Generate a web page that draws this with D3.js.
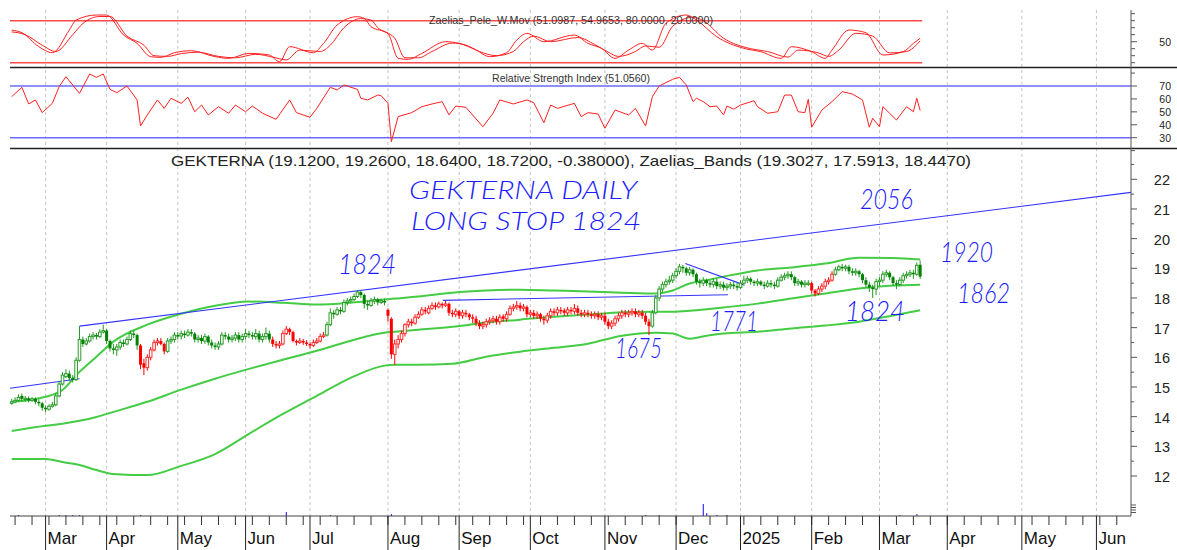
<!DOCTYPE html>
<html>
<head>
<meta charset="utf-8">
<script src="https://cdn.jsdelivr.net/npm/d3@7"></script>
<style>
  body { margin: 0; background: #fff; }
  svg { display: block; }
  text { font-family: "Liberation Sans", Arial, sans-serif; }
</style>
</head>
<body>
<div id="chart"></div>
<script>
"use strict"

/* ---- data (trading day index 0 = 16 Feb 2024) ---- */
let opens = [
  14.45,14.5,14.55,14.7,14.58,14.62,14.55,14.6,14.5,14.45,
  14.3,14.25,14.35,14.4,14.7,15.1,15.35,15.45,15.3,15.25,
  15.9,16.6,16.45,16.55,16.7,16.75,16.7,16.85,16.9,16.55,
  16.3,16.25,16.35,16.5,16.45,16.6,16.8,16.75,16.4,15.8,
  15.65,16.0,16.25,16.5,16.55,16.45,16.2,16.55,16.6,16.75,
  16.72,16.8,16.75,16.85,16.8,16.6,16.65,16.55,16.7,16.5,
  16.4,16.35,16.45,16.75,16.7,16.6,16.65,16.75,16.6,16.7,
  16.8,16.75,16.7,16.8,16.6,16.7,16.8,16.6,16.45,16.4,
  16.45,16.8,16.95,16.85,16.55,16.5,16.55,16.5,16.45,16.4,
  16.5,16.55,16.7,16.75,17.1,17.5,17.45,17.6,17.55,17.85,
  17.9,17.95,18.05,18.2,18.1,17.8,17.75,17.9,17.95,17.85,
  17.9,17.6,17.3,16.1,16.45,16.6,16.8,17.1,17.2,17.15,
  17.35,17.45,17.6,17.5,17.65,17.75,17.7,17.8,17.75,17.8,
  17.5,17.45,17.55,17.4,17.5,17.45,17.35,17.3,17.15,17.05,
  17.1,17.2,17.25,17.3,17.2,17.38,17.3,17.45,17.65,17.7,
  17.75,17.65,17.7,17.45,17.5,17.4,17.45,17.3,17.25,17.4,
  17.55,17.5,17.6,17.58,17.5,17.6,17.55,17.65,17.5,17.45,
  17.5,17.45,17.4,17.45,17.35,17.4,17.2,17.05,17.15,17.3,
  17.4,17.5,17.45,17.5,17.55,17.45,17.5,17.4,17.2,17.05,
  17.5,18.0,18.3,18.45,18.55,18.6,18.75,18.9,19.05,19.0,
  18.85,18.95,18.8,18.55,18.5,18.6,18.5,18.45,18.55,18.4,
  18.45,18.35,18.4,18.45,18.4,18.35,18.5,18.6,18.65,18.55,
  18.5,18.55,18.45,18.4,18.5,18.45,18.4,18.6,18.7,18.75,
  18.8,18.7,18.5,18.55,18.45,18.5,18.5,18.25,18.15,18.3,
  18.4,18.55,18.6,18.8,18.95,19.05,19.0,19.05,18.9,18.85,
  18.9,18.8,18.6,18.45,18.35,18.3,18.55,18.6,18.8,18.85,
  18.7,18.5,18.45,18.6,18.75,18.8,18.85,18.8,19.12
];
let highs = [
  14.6,14.65,14.75,14.78,14.7,14.68,14.66,14.65,14.58,14.5,
  14.38,14.42,14.5,14.8,15.2,15.5,15.6,15.55,15.4,16.0,
  17.05,16.7,16.65,16.8,16.85,16.82,16.95,17.1,16.95,16.6,
  16.45,16.45,16.6,16.6,16.7,16.9,16.9,16.8,16.45,15.95,
  16.1,16.35,16.6,16.65,16.65,16.5,16.65,16.7,16.85,16.85,
  16.9,16.9,16.95,16.95,16.85,16.75,16.75,16.8,16.75,16.6,
  16.5,16.55,16.85,16.85,16.8,16.75,16.85,16.85,16.8,16.95,
  16.9,16.85,16.95,16.9,16.8,17.0,16.9,16.7,16.55,16.55,
  16.9,17.05,17.0,16.9,16.6,16.65,16.62,16.58,16.5,16.6,
  16.65,16.8,16.85,17.2,17.65,17.6,17.7,17.7,17.95,18.0,
  18.05,18.15,18.27,18.25,18.15,17.9,18.0,18.05,18.0,17.98,
  17.98,17.65,17.35,16.6,16.75,16.9,17.15,17.3,17.3,17.45,
  17.55,17.7,17.7,17.75,17.85,17.85,17.88,17.85,17.9,17.85,
  17.6,17.65,17.6,17.6,17.6,17.5,17.45,17.4,17.25,17.2,
  17.3,17.35,17.4,17.4,17.45,17.45,17.55,17.75,17.8,17.9,
  17.85,17.8,17.75,17.6,17.6,17.55,17.5,17.4,17.5,17.65,
  17.65,17.7,17.7,17.65,17.7,17.7,17.8,17.75,17.6,17.6,
  17.6,17.55,17.55,17.55,17.5,17.5,17.3,17.25,17.4,17.5,
  17.6,17.6,17.6,17.65,17.65,17.6,17.6,17.5,17.3,17.6,
  18.1,18.4,18.55,18.65,18.75,18.85,19.0,19.15,19.12,19.05,
  19.05,19.0,18.85,18.65,18.7,18.65,18.6,18.65,18.65,18.55,
  18.55,18.5,18.55,18.55,18.5,18.6,18.75,18.75,18.7,18.6,
  18.65,18.6,18.55,18.6,18.6,18.55,18.7,18.8,18.85,18.9,
  18.9,18.75,18.65,18.6,18.6,18.6,18.55,18.3,18.4,18.5,
  18.65,18.7,18.9,19.05,19.12,19.15,19.12,19.12,19.0,19.0,
  18.95,18.85,18.7,18.55,18.45,18.65,18.7,18.9,18.95,18.9,
  18.75,18.6,18.7,18.85,18.9,18.95,18.95,19.2,19.26
];
let lows = [
  14.4,14.45,14.5,14.52,14.5,14.48,14.5,14.42,14.35,14.2,
  14.15,14.2,14.3,14.35,14.65,15.05,15.3,15.2,15.15,15.2,
  15.85,16.35,16.4,16.5,16.6,16.6,16.65,16.8,16.45,16.2,
  16.1,16.05,16.25,16.35,16.4,16.55,16.65,16.25,15.6,15.4,
  15.55,15.9,16.2,16.4,16.4,16.1,16.15,16.45,16.5,16.6,
  16.6,16.65,16.7,16.7,16.5,16.5,16.45,16.45,16.4,16.3,
  16.25,16.25,16.4,16.6,16.5,16.5,16.55,16.5,16.5,16.6,
  16.65,16.6,16.6,16.5,16.5,16.6,16.5,16.35,16.3,16.3,
  16.4,16.75,16.75,16.5,16.4,16.45,16.42,16.38,16.3,16.35,
  16.45,16.5,16.65,16.7,17.05,17.3,17.4,17.45,17.5,17.75,
  17.85,17.9,18.0,18.0,17.65,17.6,17.7,17.8,17.75,17.8,
  17.75,17.2,15.95,15.75,16.3,16.5,16.7,17.0,17.05,17.1,
  17.3,17.4,17.45,17.45,17.6,17.6,17.65,17.65,17.7,17.4,
  17.35,17.35,17.3,17.3,17.35,17.25,17.15,17.05,16.95,16.95,
  17.0,17.1,17.15,17.1,17.1,17.2,17.2,17.4,17.55,17.6,
  17.55,17.55,17.35,17.35,17.3,17.3,17.2,17.1,17.15,17.3,
  17.4,17.4,17.45,17.4,17.4,17.45,17.45,17.4,17.35,17.35,
  17.35,17.3,17.3,17.25,17.25,17.1,16.95,16.95,17.05,17.2,
  17.3,17.35,17.35,17.4,17.35,17.35,17.3,17.1,16.75,17.0,
  17.45,17.9,18.2,18.35,18.45,18.5,18.65,18.8,18.85,18.75,
  18.75,18.7,18.45,18.35,18.4,18.4,18.35,18.35,18.3,18.3,
  18.25,18.25,18.3,18.3,18.25,18.3,18.4,18.5,18.45,18.4,
  18.4,18.4,18.3,18.35,18.35,18.3,18.35,18.55,18.6,18.65,
  18.6,18.4,18.4,18.35,18.35,18.4,18.15,18.05,18.1,18.2,
  18.3,18.45,18.55,18.75,18.9,18.9,18.9,18.8,18.75,18.75,
  18.7,18.5,18.35,18.2,18.0,18.1,18.4,18.5,18.7,18.6,
  18.4,18.3,18.4,18.5,18.65,18.7,18.65,18.75,18.64
];
let closes = [
  14.5,14.55,14.65,14.6,14.62,14.55,14.6,14.5,14.45,14.3,
  14.25,14.35,14.4,14.7,15.1,15.4,15.45,15.3,15.25,15.9,
  16.6,16.45,16.55,16.7,16.75,16.7,16.85,16.9,16.55,16.3,
  16.25,16.35,16.5,16.45,16.6,16.8,16.75,16.4,15.75,15.65,
  16.0,16.25,16.5,16.55,16.45,16.2,16.55,16.6,16.75,16.7,
  16.8,16.75,16.85,16.8,16.6,16.65,16.55,16.7,16.5,16.4,
  16.35,16.45,16.75,16.7,16.6,16.65,16.75,16.6,16.7,16.8,
  16.75,16.7,16.8,16.6,16.7,16.8,16.6,16.45,16.4,16.45,
  16.8,16.95,16.85,16.55,16.5,16.55,16.5,16.45,16.4,16.5,
  16.55,16.7,16.75,17.1,17.5,17.45,17.6,17.55,17.85,17.9,
  17.95,18.05,18.2,18.1,17.8,17.75,17.9,17.95,17.85,17.9,
  17.85,17.4,16.1,16.45,16.6,16.8,17.1,17.2,17.15,17.35,
  17.45,17.6,17.55,17.65,17.75,17.7,17.8,17.75,17.8,17.5,
  17.45,17.55,17.4,17.5,17.45,17.35,17.3,17.15,17.05,17.1,
  17.2,17.25,17.3,17.2,17.35,17.3,17.45,17.65,17.7,17.75,
  17.65,17.7,17.45,17.5,17.4,17.45,17.3,17.25,17.4,17.55,
  17.5,17.6,17.55,17.5,17.6,17.55,17.65,17.5,17.45,17.5,
  17.45,17.4,17.45,17.35,17.4,17.2,17.05,17.15,17.3,17.4,
  17.5,17.45,17.5,17.55,17.45,17.5,17.4,17.2,17.05,17.5,
  18.0,18.3,18.45,18.55,18.6,18.75,18.9,19.05,19.0,18.85,
  18.95,18.8,18.55,18.5,18.6,18.5,18.45,18.55,18.4,18.45,
  18.35,18.4,18.45,18.4,18.35,18.5,18.6,18.65,18.55,18.5,
  18.55,18.45,18.4,18.5,18.45,18.4,18.6,18.7,18.75,18.8,
  18.7,18.5,18.55,18.45,18.5,18.5,18.25,18.15,18.3,18.4,
  18.55,18.6,18.8,18.95,19.05,19.0,19.05,18.9,18.85,18.9,
  18.8,18.6,18.45,18.35,18.3,18.55,18.6,18.8,18.85,18.7,
  18.5,18.45,18.6,18.75,18.8,18.85,18.8,19.1,18.72
];

// trend state runs (green / red candles)
let runStart = [0, 38, 46, 77, 93, 111, 189, 236, 243];
let runState = ["up", "down", "up", "down", "up", "down", "up", "down", "up"];

// Zaelias bands, read at sample days
let bandIdx = [0,10,15,20,25,30,40,50,60,70,80,90,100,110,113,120,130,140,150,160,170,180,190,195,200,205,210,220,230,240,250,260,268];
let bandUpper = [14.5,14.67,14.9,15.51,16.02,16.53,17.1,17.47,17.74,17.88,17.84,17.78,17.84,17.95,17.98,18.05,18.18,18.25,18.28,18.25,18.22,18.18,18.15,18.25,18.49,18.6,18.72,18.93,19.03,19.16,19.36,19.35,19.30];
let bandMiddle = [13.52,13.69,13.76,13.86,13.99,14.16,14.5,14.91,15.28,15.61,15.92,16.22,16.56,16.83,16.86,16.93,17.03,17.17,17.27,17.37,17.44,17.52,17.54,17.54,17.57,17.62,17.68,17.81,17.98,18.15,18.32,18.42,18.45];
let bandLower = [12.57,12.57,12.47,12.37,12.2,12.07,12.03,12.34,12.74,13.42,14.09,14.7,15.31,15.72,15.75,15.75,15.78,16.02,16.19,16.32,16.46,16.73,16.83,16.8,16.63,16.73,16.8,16.86,16.97,17.07,17.2,17.41,17.59];

// Pele W.Mov oscillator
let peleFastIdx = [0,3,8,12,17,19,25,28,33,37,41,44,48,53,60,64,70,76,79,82,89,92,96,102,104,106,111,114,117,121,128,132,137,141,146,149,152,157,166,170,174,178,182,186,189,193,199,202,208,216,221,227,230,236,240,242,247,252,257,263,266,268];
let peleFast = [66.6,62.9,42.9,34.3,66.6,80.9,88.1,88.1,59.5,47.6,28.6,27.6,34.3,37.1,28.6,26.2,33.3,31,21.4,42.9,34.3,47.6,73.8,85.7,83.3,71.4,61.9,26.2,24.8,33.3,50,47.6,38.1,28.6,34.3,52.4,61.9,50,59.5,47.6,40.5,26.2,38.1,47.6,38.1,76.2,88.1,81,57.1,40.5,35.7,26.2,42.9,35.7,26.2,38.1,66.7,62.9,31,35.7,47.6,54.97];
let peleSlowIdx = [0,4,9,13,18,21,26,29,34,39,42,46,50,55,61,66,72,77,81,85,91,94,98,103,106,108,113,116,120,124,130,134,138,143,148,151,154,159,167,172,176,179,184,187,191,195,201,204,210,218,223,229,232,238,241,244,249,254,259,264,268];
let peleSlow = [64,60,45,36,60,76,86,86,58,45,30,29,33,35,29,27,32,28,24,38,36,45,70,83,81,70,55,27,27,36,48,45,36,30,36,50,58,50,56,46,35,29,36,44,42,72,85,80,55,40,36,28,38,34,29,38,62,58,34,36,51.1];

// RSI
let rsiIdx = [0,3,5,7,9,12,14,16,18,20,23,25,27,29,31,34,37,38,40,43,45,47,50,52,54,56,58,61,64,66,69,71,74,78,82,84,88,90,94,96,98,102,103,105,108,109,111,112,114,118,121,124,127,129,131,134,139,142,144,148,152,154,157,159,161,166,168,170,173,175,178,182,184,187,189,191,195,197,199,201,202,204,206,208,210,211,213,215,219,220,223,226,228,230,232,234,235,236,239,242,245,248,251,253,254,256,257,259,261,264,266,267,268];
let rsiVals = [61.7,69,56.1,59.2,49.4,56.6,69.5,77.2,70.8,64.3,79.3,76.7,79.3,67.4,64.8,70,59.2,39.1,47.6,59.2,52.7,60.5,56.6,61.3,50.1,55.3,47.6,54,48.9,55.3,50.1,54.5,48.9,44.2,59.2,49.4,45.8,52.7,69,66.9,70.8,67.4,60.5,59.2,63,62.5,56.6,26.9,46.3,49.4,54,56.1,57.9,47.6,54.5,53.5,38.5,48.9,59.2,56.1,59.2,57.1,41.6,55.3,52.7,56.6,46.3,49.4,48.3,37.3,51.4,47.6,52.7,39.1,61.7,70,75.2,76.7,70.8,57.9,60.5,57.9,54,54.5,47.6,54.5,52,55.3,58.6,54,48.9,50.1,63,63,50.1,49.4,59.7,38.1,51.4,57.9,65.6,63.8,59.2,38.1,45,38.5,54,48.9,43.7,54,50.1,60.5,51.06];

// volume spikes (only visible ones)
let volIdx = [2,14,16,18,20,38,81,94,112,187,191,204,205,208,211,262,267];
let volVals = [1,1,1,1,1,1,4,1,2,1,1,12,3,1,1,1,2];

// axes
let monthIdx = [10,28,49,69,88,111,132,153,175,196,215,236,256,276,298,320];
let monthLabels = ["Mar","Apr","May","Jun","Jul","Aug","Sep","Oct","Nov","Dec","2025","Feb","Mar","Apr","May","Jun"];
let priceTicks = [12,13,14,15,16,17,18,19,20,21,22];
let rsiTicks = [30,40,50,60,70];

// trend lines drawn on the chart [idx, price]
let trendLines = [
  [[20, 17.05], [330.2, 21.56]],
  [[-0.5, 14.96], [20, 15.28]],
  [[127.2, 17.92], [211.3, 18.11]],
  [[198.7, 19.16], [215.8, 18.45]]
];

/* ---- layout ---- */
let svgWidth = 1177;
let svgHeight = 550;
let plotLeft = 10;
let plotRight = 1131;
let axisY = 516;

let svg = d3.select("#chart")
    .append("svg")
    .attr("width", svgWidth)
    .attr("height", svgHeight);

let xScale = d3.scaleLinear().domain([-0.5, 330.2]).range([plotLeft, plotRight]);
let yPele = d3.scaleLinear().domain([20, 80]).range([62.7, 20.7]);
let yRsi = d3.scaleLinear().domain([30, 70]).range([137.7, 86]);
let yMain = d3.scaleLinear().domain([12, 22]).range([476, 179.3]);
let yVol = d3.scaleLinear().domain([0, 12]).range([axisY, axisY - 12]);

let green = "#008200";
let red = "#ff0000";
let blue = "#3434ff";
let bandGreen = "#44cc44";

/* month grid lines through all panels */
svg.append("g")
    .selectAll("line")
    .data(monthIdx)
    .join("line")
    .attr("x1", d => xScale(d))
    .attr("x2", d => xScale(d))
    .attr("y1", 10)
    .attr("y2", axisY)
    .attr("stroke", "#c4c4c4")
    .attr("stroke-dasharray", "3,3");

/* panel separators */
[67.5, 148.5].forEach(function (y) {
    svg.append("line")
        .attr("x1", plotLeft).attr("x2", svgWidth)
        .attr("y1", y).attr("y2", y)
        .attr("stroke", "#222").attr("stroke-width", 1.3);
});

/* ---- Pele W.Mov panel ---- */
[80, 20].forEach(function (v) {
    svg.append("line")
        .attr("x1", plotLeft).attr("x2", xScale(268.6))
        .attr("y1", yPele(v)).attr("y2", yPele(v))
        .attr("stroke", "#ff4a4a").attr("stroke-width", 1.6);
});

let peleLine = d3.line().curve(d3.curveMonotoneX);
svg.append("path")
    .attr("d", peleLine(peleSlowIdx.map((d, k) => [xScale(d), yPele(peleSlow[k])])))
    .attr("fill", "none").attr("stroke", "#ff2020").attr("stroke-width", 1);
svg.append("path")
    .attr("d", peleLine(peleFastIdx.map((d, k) => [xScale(d), yPele(peleFast[k])])))
    .attr("fill", "none").attr("stroke", "#ff2020").attr("stroke-width", 1);

svg.append("text")
    .attr("x", 571).attr("y", 24)
    .attr("text-anchor", "middle")
    .attr("font-size", 11)
    .attr("fill", "#333")
    .attr("textLength", 284).attr("lengthAdjust", "spacingAndGlyphs")
    .text("Zaelias_Pele_W.Mov (51.0987, 54.9653, 80.0000, 20.0000)");

/* ---- RSI panel ---- */
[70, 30].forEach(function (v) {
    svg.append("line")
        .attr("x1", plotLeft).attr("x2", plotRight)
        .attr("y1", yRsi(v)).attr("y2", yRsi(v))
        .attr("stroke", "#6a6aff").attr("stroke-width", 1.6);
});

svg.append("path")
    .attr("d", d3.line()(rsiIdx.map((d, k) => [xScale(d), yRsi(rsiVals[k])])))
    .attr("fill", "none").attr("stroke", "#ff2020").attr("stroke-width", 1);

svg.append("text")
    .attr("x", 571).attr("y", 82)
    .attr("text-anchor", "middle")
    .attr("font-size", 11)
    .attr("fill", "#333")
    .attr("textLength", 158).attr("lengthAdjust", "spacingAndGlyphs")
    .text("Relative Strength Index (51.0560)");

/* ---- main panel: bands ---- */
let bandLine = d3.line().curve(d3.curveMonotoneX);
[bandUpper, bandMiddle, bandLower].forEach(function (band) {
    svg.append("path")
        .attr("d", bandLine(bandIdx.map((d, k) => [xScale(d), yMain(band[k])])))
        .attr("fill", "none")
        .attr("stroke", bandGreen)
        .attr("stroke-width", 2);
});

/* trend lines */
svg.append("g")
    .selectAll("line")
    .data(trendLines)
    .join("line")
    .attr("x1", d => xScale(d[0][0])).attr("y1", d => yMain(d[0][1]))
    .attr("x2", d => xScale(d[1][0])).attr("y2", d => yMain(d[1][1]))
    .attr("stroke", blue).attr("stroke-width", 1.1);

/* candles */
function stateOf(i) {
    let s = runState[0];
    runStart.forEach(function (st, k) { if (i >= st) s = runState[k]; });
    return s;
}

let candles = closes.map(function (c, i) {
    return { i: i, o: opens[i], h: highs[i], l: lows[i], c: c, s: stateOf(i) };
});

let cg = svg.append("g");
cg.selectAll("line")
    .data(candles)
    .join("line")
    .attr("x1", d => xScale(d.i)).attr("x2", d => xScale(d.i))
    .attr("y1", d => yMain(d.h)).attr("y2", d => yMain(d.l))
    .attr("stroke", d => d.s === "up" ? "#1f9a1f" : red)
    .attr("stroke-width", 1);

cg.selectAll("rect")
    .data(candles)
    .join("rect")
    .attr("x", d => xScale(d.i) - (d.c >= d.o ? 1.3 : 1.5))
    .attr("width", d => d.c >= d.o ? 2.6 : 3)
    .attr("y", d => yMain(Math.max(d.o, d.c)))
    .attr("height", d => Math.max(1.2, yMain(Math.min(d.o, d.c)) - yMain(Math.max(d.o, d.c))))
    .attr("fill", d => d.c >= d.o ? "#fff" : (d.s === "up" ? green : red))
    .attr("stroke", d => d.c >= d.o ? (d.s === "up" ? "#2a9c2a" : "#ff3030") : "none")
    .attr("stroke-width", 1);

svg.append("text")
    .attr("x", 571).attr("y", 166)
    .attr("text-anchor", "middle")
    .attr("font-size", 15)
    .attr("fill", "#222")
    .attr("textLength", 800).attr("lengthAdjust", "spacingAndGlyphs")
    .text("GEKTERNA (19.1200, 19.2600, 18.6400, 18.7200, -0.38000), Zaelias_Bands (19.3027, 17.5913, 18.4470)");

/* hand drawn notes */
let notes = [
    { t: "GEKTERNA DAILY", x: 409, y: 199, w: 228, s: 25 },
    { t: "LONG STOP 1824", x: 411, y: 230, w: 230, s: 25 },
    { t: "2056", x: 860, y: 209, w: 53, s: 27 },
    { t: "1824", x: 338, y: 274, w: 58, s: 27 },
    { t: "1920", x: 940, y: 262, w: 53, s: 27 },
    { t: "1862", x: 957, y: 303, w: 53, s: 27 },
    { t: "1824", x: 845, y: 321, w: 60, s: 27 },
    { t: "1771", x: 710, y: 331, w: 48, s: 27 },
    { t: "1675", x: 615, y: 358, w: 47, s: 27 }
];
svg.append("g")
    .selectAll("text")
    .data(notes)
    .join("text")
    .attr("x", d => d.x).attr("y", d => d.y)
    .style("font-family", "Lato, 'Open Sans', sans-serif")
    .attr("font-size", d => d.s)
    .attr("font-weight", 300)
    .attr("font-style", "italic")
    .attr("fill", "#1c1cff")
    .attr("textLength", d => d.w).attr("lengthAdjust", "spacingAndGlyphs")
    .text(d => d.t);

/* volume */
svg.append("g")
    .selectAll("rect")
    .data(volIdx)
    .join("rect")
    .attr("x", d => xScale(d) - 0.5)
    .attr("width", 1.2)
    .attr("y", (d, k) => yVol(volVals[k]))
    .attr("height", (d, k) => axisY - yVol(volVals[k]))
    .attr("fill", blue);

/* ---- right axis ---- */
svg.append("line")
    .attr("x1", plotRight).attr("x2", plotRight)
    .attr("y1", 10).attr("y2", axisY)
    .attr("stroke", "#555");

let ra = svg.append("g").attr("stroke", "#555");
d3.range(12, 22.6, 0.5).forEach(function (v) {
    ra.append("line")
        .attr("x1", plotRight).attr("x2", plotRight + (v % 1 === 0 ? 6 : 3))
        .attr("y1", yMain(v)).attr("y2", yMain(v));
});
d3.range(20, 91, 10).forEach(function (v) {
    ra.append("line")
        .attr("x1", plotRight).attr("x2", plotRight + (v === 50 ? 6 : 4))
        .attr("y1", yPele(v)).attr("y2", yPele(v));
});
d3.range(20, 81, 10).forEach(function (v) {
    ra.append("line")
        .attr("x1", plotRight).attr("x2", plotRight + (v >= 30 && v <= 70 ? 6 : 4))
        .attr("y1", yRsi(v)).attr("y2", yRsi(v));
});
[505, 507.5, 510, 512.5].forEach(function (y) {
    ra.append("line").attr("x1", plotRight).attr("x2", plotRight + 5).attr("y1", y).attr("y2", y);
});

svg.append("g")
    .selectAll("text")
    .data(priceTicks)
    .join("text")
    .attr("x", 1170).attr("y", d => yMain(d) + 6)
    .attr("text-anchor", "end")
    .attr("font-size", 14.5)
    .attr("fill", "#222")
    .text(d => d);

svg.append("g")
    .selectAll("text")
    .data(rsiTicks)
    .join("text")
    .attr("x", 1171).attr("y", d => yRsi(d) + 4)
    .attr("text-anchor", "end")
    .attr("font-size", 10.5)
    .attr("fill", "#222")
    .text(d => d);

svg.append("text")
    .attr("x", 1171).attr("y", yPele(50) + 4)
    .attr("text-anchor", "end")
    .attr("font-size", 10.5)
    .attr("fill", "#222")
    .text("50");

/* ---- bottom axis ---- */
svg.append("line")
    .attr("x1", plotLeft).attr("x2", plotRight)
    .attr("y1", axisY).attr("y2", axisY)
    .attr("stroke", "#444");

svg.append("g")
    .selectAll("line")
    .data(d3.range(1, 330, 5))
    .join("line")
    .attr("x1", d => xScale(d)).attr("x2", d => xScale(d))
    .attr("y1", axisY).attr("y2", axisY + 9)
    .attr("stroke", "#333");

svg.append("g")
    .selectAll("line")
    .data(monthIdx)
    .join("line")
    .attr("x1", d => xScale(d)).attr("x2", d => xScale(d))
    .attr("y1", axisY).attr("y2", 550)
    .attr("stroke", "#222");

svg.append("clipPath").attr("id", "xclip")
    .append("rect")
    .attr("x", plotLeft).attr("y", axisY).attr("width", plotRight - plotLeft).attr("height", 40);

svg.append("g")
    .attr("clip-path", "url(#xclip)")
    .selectAll("text")
    .data(monthIdx)
    .join("text")
    .attr("x", d => xScale(d) + 2)
    .attr("y", 544)
    .attr("font-size", 17)
    .attr("fill", "#111")
    .text((d, k) => monthLabels[k]);
</script>
</body>
</html>
